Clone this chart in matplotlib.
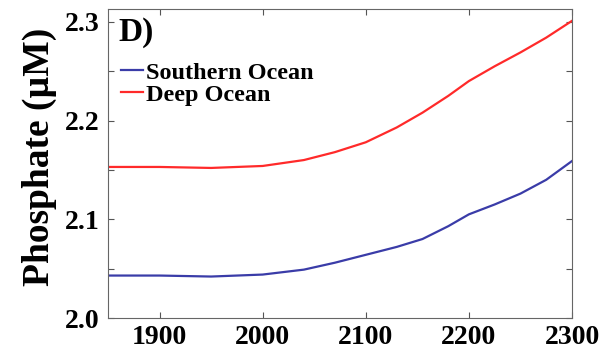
import matplotlib
matplotlib.use("Agg")
import matplotlib.pyplot as plt
from matplotlib.ticker import MultipleLocator

years = [1850, 1900, 1950, 2000, 2040, 2070, 2100, 2130, 2155, 2180, 2200, 2225, 2250, 2275, 2300]
deep = [2.153, 2.153, 2.152, 2.154, 2.160, 2.168, 2.178, 2.193, 2.208, 2.225, 2.240, 2.255, 2.269, 2.284, 2.301]
southern = [2.043, 2.043, 2.042, 2.044, 2.049, 2.056, 2.064, 2.072, 2.080, 2.093, 2.105, 2.115, 2.126, 2.140, 2.159]
xticks = [1900, 2000, 2100, 2200, 2300]
yticks = [2.0, 2.1, 2.2, 2.3]
ytick_labels = ['2.0', '2.1', '2.2', '2.3']

plt.rcParams['font.family'] = ['Liberation Serif', 'DejaVu Serif']
plt.rcParams['font.weight'] = 'bold'

fig = plt.figure(figsize=(6.06, 3.54), dpi=100)
ax = fig.add_axes([108/606, 1-318/354, (572-108)/606, (318-9)/354])
ax.plot(years, southern, color='#3a3ca8', lw=1.6, label='Southern Ocean')
ax.plot(years, deep, color='#ff2a2a', lw=1.6, label='Deep Ocean')
ax.set_xlim(1850, 2300)
ax.set_ylim(2.0, 2.313)
ax.set_xticks(xticks)
ax.set_xticklabels([str(x) for x in xticks], fontsize=20, fontweight='bold')
ax.set_yticks(yticks)
ax.set_yticklabels(ytick_labels, fontsize=20, fontweight='bold')
ax.yaxis.set_minor_locator(MultipleLocator(0.05))
ax.tick_params(which='both', direction='in', top=True, right=True, length=4, width=0.8, color='#555555')
ax.tick_params(axis='y', pad=6)
ax.tick_params(axis='x', pad=5)
for s in ax.spines.values():
    s.set_color('#666666')
    s.set_linewidth(0.8)
ax.set_ylabel('Phosphate (µM)', fontsize=27, fontweight='bold')
ax.yaxis.set_label_coords(-0.11, 0.52)
ax.text(0.022, 0.975, 'D)', transform=ax.transAxes, fontsize=24, fontweight='bold', va='top', ha='left')
leg = ax.legend(loc='upper left', bbox_to_anchor=(0.018, 0.845), frameon=False, fontsize=17.5,
                handlelength=0.9, handletextpad=0.1, labelspacing=0.0, borderpad=0.2, borderaxespad=0.0)
for t in leg.get_texts():
    t.set_fontweight('bold')
fig.savefig('out.png', dpi=100)
